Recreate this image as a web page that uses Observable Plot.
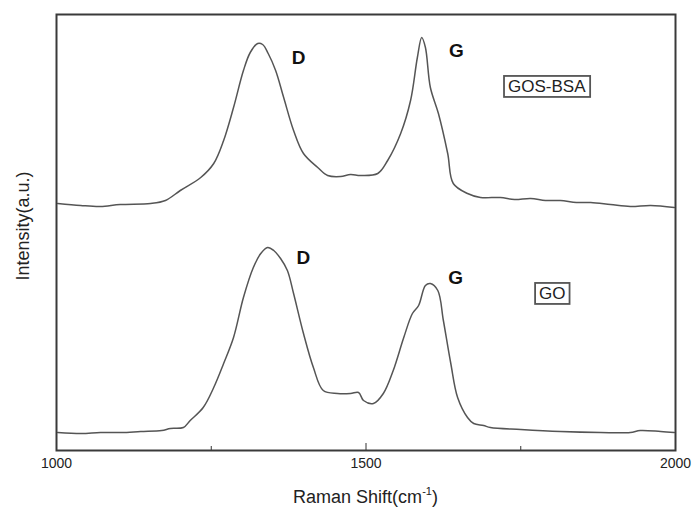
<!DOCTYPE html>
<html>
<head>
<meta charset="utf-8">
<script src="https://cdn.jsdelivr.net/npm/d3@7"></script>
<script src="https://cdn.jsdelivr.net/npm/@observablehq/plot@0.6"></script>
<style>
  html, body { margin: 0; padding: 0; background: #fff; }
  #chart { width: 694px; height: 509px; }
</style>
</head>
<body>
<div id="chart"></div>
<script>
// Raman shift (cm^-1) and intensity (a.u.)
const gosShift = [1002,1039,1071,1103,1152,1176,1200,1233,1254,1270,1286,1302,1313,1325,1333,1342,1354,1367,1383,1399,1422,1438,1459,1475,1491,1519,1535,1556,1572,1583,1590,1596,1604,1617,1632,1641,1664,1685,1717,1740,1766,1790,1814,1840,1863,1895,1927,1960,1998];
const gosInt   = [247,245,244,246,247,250,260,273,287,310,343,380,398,407,406,397,380,353,320,297,283,275,274,276,275,277,290,317,350,393,413,403,363,337,297,267,257,253,253,251,252,250,250,248,248,246,244,245,243];

const goShift = [1002,1040,1071,1105,1136,1170,1184,1205,1216,1237,1254,1270,1286,1302,1318,1330,1341,1351,1362,1373,1383,1399,1415,1431,1454,1475,1488,1496,1512,1528,1544,1561,1575,1585,1596,1604,1616,1625,1637,1648,1664,1674,1690,1701,1750,1814,1879,1927,1943,1976,1998];
const goInt   = [18,17,18,18,19,20,22,23,30,43,63,87,113,153,183,197,203,200,192,180,157,117,83,60,57,57,58,50,47,57,80,113,137,145,165,167,160,130,87,53,33,27,25,23,21,19,18,18,20,19,18];

const peakLabels = ["D","G","D","G"];
const peakX = [1391,1646,1399,1645];
const peakY = [393,400,193,173];

const sampleNames = ["GOS-BSA","GO"];
const sampleX = [1792,1801];
const sampleY = [364,157];

const majorTicks = [1000,1500,2000];
const minorTicks = [1250,1750];

const gos = gosShift.map((x,i)=>({x, y: gosInt[i]}));
const go = goShift.map((x,i)=>({x, y: goInt[i]}));
const peaks = peakLabels.map((t,i)=>({t, x: peakX[i], y: peakY[i]}));
const samples = sampleNames.map((t,i)=>({t, x: sampleX[i], y: sampleY[i]}));

const font = "'Liberation Sans', Arial, sans-serif";

const plot = Plot.plot({
  width: 694,
  height: 509,
  marginLeft: 56,
  marginRight: 19,
  marginTop: 14,
  marginBottom: 59,
  style: {fontFamily: font, background: "#fff"},
  x: {domain: [1000, 2000]},
  y: {domain: [0, 436], axis: null},
  marks: [
    Plot.line(gos, {x: "x", y: "y", stroke: "#555", strokeWidth: 1.5, curve: "catmull-rom"}),
    Plot.line(go, {x: "x", y: "y", stroke: "#555", strokeWidth: 1.5, curve: "catmull-rom"}),
    Plot.text(peaks, {x: "x", y: "y", text: "t", fontSize: 19, fontWeight: "bold", fill: "#111"}),
    Plot.text(samples, {x: "x", y: "y", text: "t", fontSize: 17, fill: "#222", className: "boxed"}),
    Plot.axisX({ticks: majorTicks, tickSize: -7, tickPadding: 15, tickFormat: d => String(d), fontSize: 14, label: null, stroke: "#333", fill: "#222"}),
    Plot.axisX({ticks: minorTicks, tickSize: -4, text: null, label: null, stroke: "#333"}),
    Plot.frame({stroke: "#3a3a3a", strokeWidth: 2})
  ]
});

document.getElementById("chart").appendChild(plot);

const svg = d3.select(plot);
// boxes around the sample names
svg.selectAll(".boxed text").each(function() {
  const b = this.getBBox();
  if (!b.width) return;
  const tr = this.getAttribute("transform") || "";
  d3.select(this.parentNode).insert("rect", "text")
    .attr("transform", tr)
    .attr("x", b.x - 4).attr("y", b.y - 1)
    .attr("width", b.width + 8).attr("height", b.height + 2)
    .attr("fill", "none").attr("stroke", "#555").attr("stroke-width", 1.8);
});

const xs = plot.scale("x");
const cx = xs.apply(1500);
// x-axis title with superscript
const xt = svg.append("text")
  .attr("x", cx).attr("y", 503)
  .attr("text-anchor", "middle")
  .style("font-family", font).style("font-size", "18px").attr("fill", "#222");
xt.append("tspan").text("Raman Shift(cm");
xt.append("tspan").text("-1").attr("font-size", "11px").attr("dy", -8);
xt.append("tspan").text(")").attr("dy", 8);

// y-axis title
svg.append("text")
  .attr("transform", `translate(29, 226) rotate(-90)`)
  .attr("text-anchor", "middle")
  .style("font-family", font).style("font-size", "18px").attr("fill", "#222")
  .text("Intensity(a.u.)");
</script>
</body>
</html>
